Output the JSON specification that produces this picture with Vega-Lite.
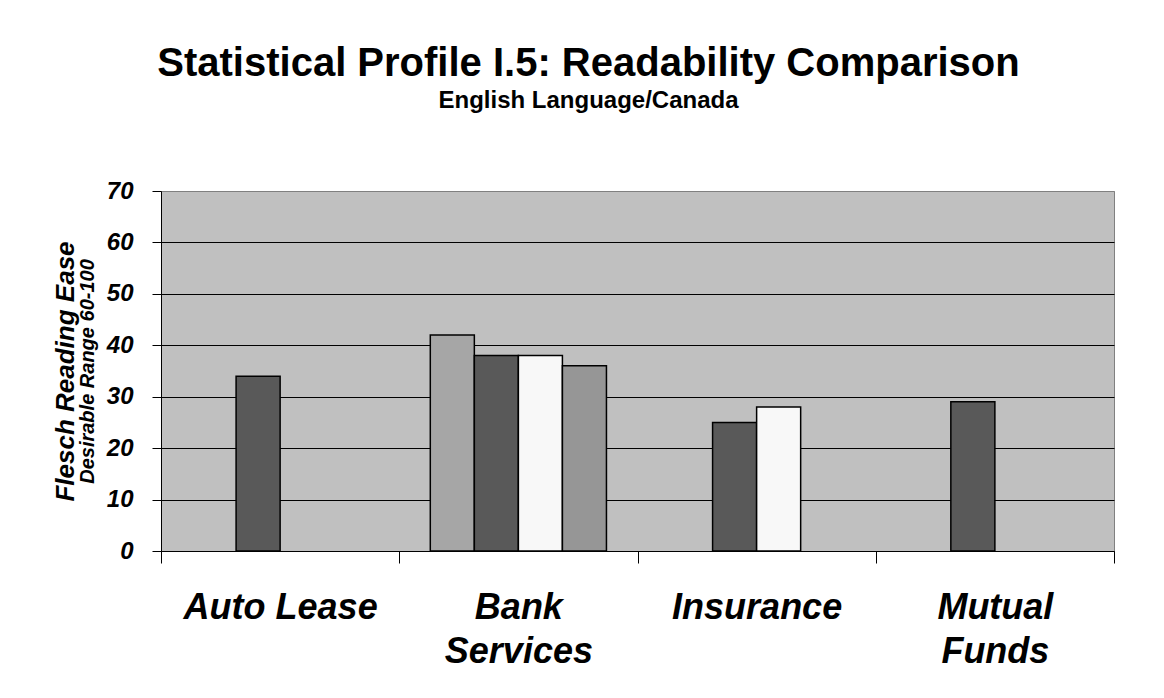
{
  "$schema": "https://vega.github.io/schema/vega-lite/v6.json",
  "autosize": "none",
  "width": 953,
  "height": 360,
  "padding": {"left": 161, "top": 191, "right": 50, "bottom": 147},
  "background": "white",
  "title": {
    "text": "Statistical Profile I.5: Readability Comparison",
    "subtitle": "\u00a0\u00a0\u00a0\u00a0\u00a0\u00a0\u00a0English Language/Canada",
    "font": "Liberation Sans",
    "fontSize": 40,
    "fontWeight": "bold",
    "color": "black",
    "subtitleFont": "Liberation Sans",
    "subtitleFontSize": 24,
    "subtitleFontWeight": "bold",
    "subtitleColor": "black",
    "anchor": "middle",
    "dx": -49,
    "offset": 66,
    "subtitlePadding": 5
  },
  "data": {
    "values": [
      {"category": "Auto Lease", "series": "s2", "value": 34},
      {"category": "Bank Services", "series": "s1", "value": 42},
      {"category": "Bank Services", "series": "s2", "value": 38},
      {"category": "Bank Services", "series": "s3", "value": 38},
      {"category": "Bank Services", "series": "s4", "value": 36},
      {"category": "Insurance", "series": "s2", "value": 25},
      {"category": "Insurance", "series": "s3", "value": 28},
      {"category": "Mutual Funds", "series": "s2", "value": 29}
    ]
  },
  "layer": [
    {
      "mark": {"type": "bar", "stroke": "black", "strokeWidth": 1.5},
      "encoding": {
        "x": {
          "field": "category",
          "type": "nominal",
          "sort": ["Auto Lease", "Bank Services", "Insurance", "Mutual Funds"],
          "scale": {"paddingInner": 0, "paddingOuter": 0},
          "axis": {
            "title": null,
            "orient": "bottom",
            "domain": true,
            "domainColor": "black",
            "domainWidth": 1,
            "ticks": true,
            "tickBand": "extent",
            "tickSize": 12,
            "tickColor": "black",
            "grid": false,
            "labelAngle": 0,
            "labelFont": "Liberation Sans",
            "labelFontSize": 36,
            "labelFontWeight": "bold",
            "labelFontStyle": "italic",
            "labelColor": "black",
            "labelPadding": 27,
            "labelLineHeight": 44,
            "labelBaseline": "top",
            "labelLimit": 500,
            "labelExpr": "datum.label == 'Bank Services' ? ['Bank', 'Services'] : datum.label == 'Mutual Funds' ? ['Mutual', 'Funds'] : datum.label"
          }
        },
        "xOffset": {
          "field": "series",
          "type": "nominal",
          "scale": {"domain": ["s1", "s2", "s3", "s4"], "paddingInner": 0, "paddingOuter": 0.705}
        },
        "y": {
          "field": "value",
          "type": "quantitative",
          "scale": {"domain": [0, 70], "nice": false},
          "axis": {
            "values": [0, 10, 20, 30, 40, 50, 60, 70],
            "title": "Flesch Reading Ease",
            "titleFont": "Liberation Sans",
            "titleFontSize": 26,
            "titleFontWeight": "bold",
            "titleFontStyle": "italic",
            "titleColor": "black",
            "titlePadding": 28,
            "grid": true,
            "gridColor": {"condition": {"test": "datum.value === 70", "value": "#808080"}, "value": "black"},
            "gridWidth": 1,
            "gridOpacity": 1,
            "domain": true,
            "domainColor": "black",
            "ticks": true,
            "tickSize": 9,
            "tickColor": "black",
            "labelFont": "Liberation Sans",
            "labelFontSize": 24,
            "labelFontWeight": "bold",
            "labelFontStyle": "italic",
            "labelColor": "black",
            "labelPadding": 19,
            "labelFlush": false,
            "labelOverlap": false,
            "labelBound": false
          }
        },
        "color": {
          "field": "series",
          "type": "nominal",
          "scale": {"domain": ["s1", "s2", "s3", "s4"], "range": ["#A6A6A6", "#595959", "#F8F8F8", "#969696"]},
          "legend": null
        }
      }
    },
    {
      "mark": {"type": "tick", "opacity": 0},
      "encoding": {
        "y": {
          "field": "value",
          "type": "quantitative",
          "axis": {
            "orient": "left",
            "title": "Desirable Range 60-100",
            "titleFont": "Liberation Sans",
            "titleFontSize": 20,
            "titleFontWeight": "bold",
            "titleFontStyle": "italic",
            "titleColor": "black",
            "titlePadding": 64,
            "labels": false,
            "ticks": false,
            "domain": false,
            "grid": false
          }
        }
      }
    }
  ],
  "resolve": {"axis": {"y": "independent"}},
  "config": {
    "view": {"fill": "#C0C0C0", "stroke": "#808080", "strokeWidth": 1}
  }
}
